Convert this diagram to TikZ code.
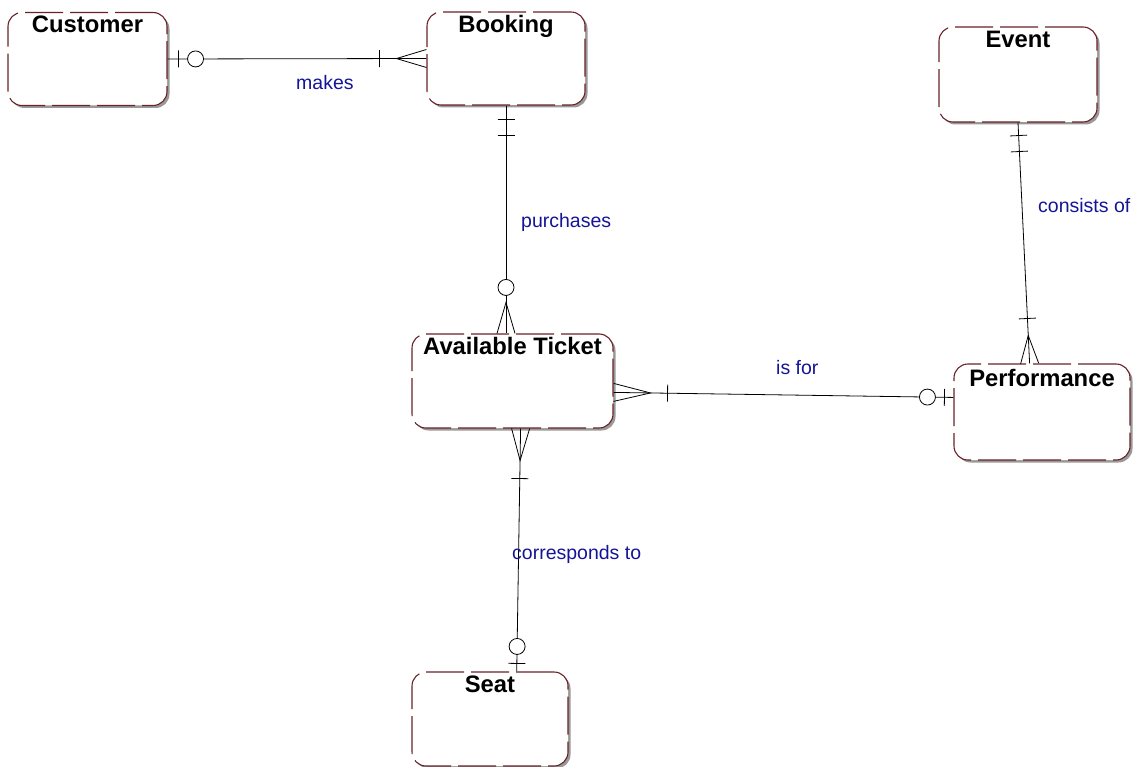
\documentclass[tikz,border=0pt]{standalone}
\usepackage{fontspec}
\setmainfont{Liberation Sans}
\usetikzlibrary{calc,shadows,decorations.markings}
\definecolor{boxline}{RGB}{105,35,40}
\definecolor{relblue}{RGB}{20,20,150}
\tikzset{
  entity/.style={draw=boxline, line width=1.1pt, dash pattern=on 38pt off 7pt, fill=white,
    rounded corners=14pt, inner sep=0pt,
    drop shadow={shadow xshift=2.5pt, shadow yshift=-2.5pt, fill=black!40, opacity=1}},
  title/.style={font=\fontsize{23.8}{25}\selectfont\bfseries, anchor=base, yshift=-21pt},
  rel/.style={font=\fontsize{19.5}{21}\selectfont, text=relblue, anchor=base west, inner sep=0pt},
  link/.style={line width=0.8pt},
  onebar/.style={postaction={decorate,decoration={markings,
    mark=at position #1 with {\draw[link] (0pt,-8.5pt) -- (0pt,8.5pt);}}}},
  ring/.style={postaction={decorate,decoration={markings,
    mark=at position #1 with {\draw[link,fill=white] (0pt,0pt) circle (8pt);}}}},
  crowstart/.style={postaction={decorate,decoration={markings,
    mark=at position 0 with {\draw[link] (0pt,9pt) -- (#1,0pt) -- (0pt,-9pt);}}}},
  crowend/.style={postaction={decorate,decoration={markings,
    mark=at position 0.9999 with {\draw[link] (0pt,9pt) -- (-#1,0pt) -- (0pt,-9pt);}}}},
}
\begin{document}
\begin{tikzpicture}[x=1pt, y=-1pt]
\useasboundingbox (0,0) rectangle (1138,767);
% entities
\node[entity, minimum width=159pt, minimum height=93pt, label={[title]north:Customer}] (cust) at (87.5,59) {};
\node[entity, minimum width=158pt, minimum height=93pt, label={[title]north:Booking}] (book) at (506,58.5) {};
\node[entity, minimum width=158pt, minimum height=95pt, label={[title]north:Event}] (ev) at (1018,74.5) {};
\node[entity, minimum width=201pt, minimum height=94pt, label={[title]north:Available Ticket}] (at) at (512.5,381) {};
\node[entity, minimum width=176pt, minimum height=96pt, label={[title, yshift=-2pt]north:Performance}] (perf) at (1042,412) {};
\node[entity, minimum width=156pt, minimum height=94pt, label={[title]north:Seat}] (seat) at (490,719) {};
% relationships
\draw[link, onebar=11pt, ring=28pt, onebar=-47pt, crowend=30pt] (cust.east) -- (book.west);
\draw[link, onebar=14pt, onebar=30pt, ring=-46pt, crowend=31pt] (book.south) -- (book.south |- at.north);
\draw[link, onebar=13pt, onebar=29pt, onebar=-45pt, crowend=28pt]
  (ev.south) -- ($(perf.north west)!0.43!(perf.north east)$);
\draw[link, crowstart=37pt, onebar=54pt, ring=-26pt, onebar=-9pt]
  ($(at.north east)!0.62!(at.south east)$) -- ($(perf.north west)!0.35!(perf.south west)$);
\draw[link, crowstart=32pt, onebar=50pt, ring=-25pt, onebar=-8pt]
  ($(at.south west)!0.54!(at.south east)$) -- ($(seat.north west)!0.67!(seat.north east)$);
% labels
\node[rel] (lmakes) at (296,90) {makes};
\node[rel] (lpurch) at (521,228) {purchases};
\node[rel] (lcons) at (1038,213) {consists of};
\node[rel] (lisfor) at (776,374) {is for};
\node[rel] (lcorr) at (512,559) {corresponds to};
\end{tikzpicture}
\end{document}
